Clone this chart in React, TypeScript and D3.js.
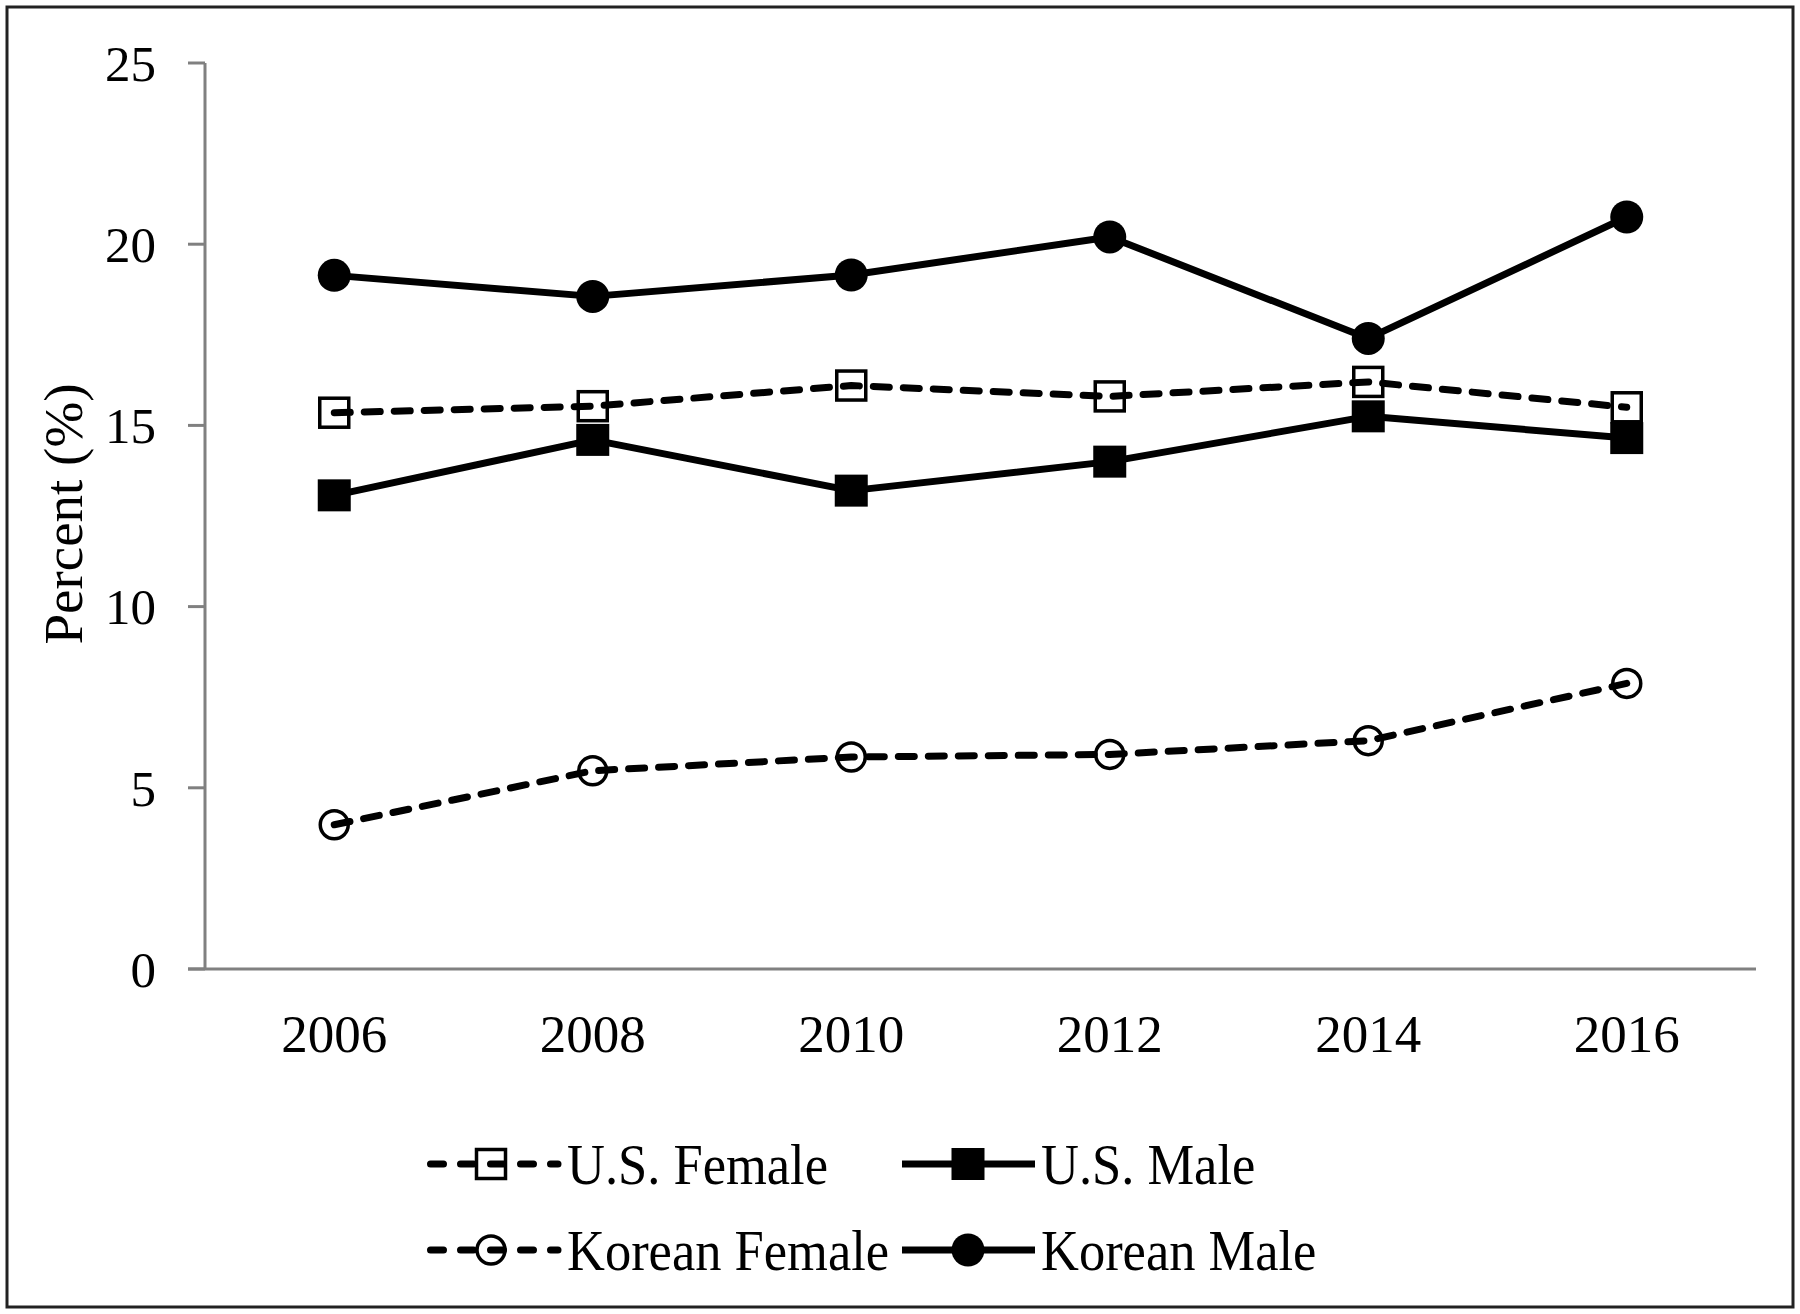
import React from "react";
import * as d3 from "d3";

const years = ["2006", "2008", "2010", "2012", "2014", "2016"];
const usFemale = [15.35, 15.53, 16.1, 15.8, 16.2, 15.5];
const usMale = [13.07, 14.6, 13.2, 14.0, 15.25, 14.65];
const koreanFemale = [3.98, 5.47, 5.85, 5.92, 6.3, 7.88];
const koreanMale = [19.14, 18.56, 19.15, 20.2, 17.4, 20.75];
const yTicks = [0, 5, 10, 15, 20, 25];

type Series = { name: string; values: number[]; dashed: boolean; marker: "square" | "circle"; filled: boolean };

const series: Series[] = [
  { name: "U.S. Female", values: usFemale, dashed: true, marker: "square", filled: false },
  { name: "U.S. Male", values: usMale, dashed: false, marker: "square", filled: true },
  { name: "Korean Female", values: koreanFemale, dashed: true, marker: "circle", filled: false },
  { name: "Korean Male", values: koreanMale, dashed: false, marker: "circle", filled: true },
];

const W = 1800;
const H = 1314;
const left = 205;
const right = 1756;
const top = 63;
const bottom = 969;
const FONT = "'Liberation Serif', 'Times New Roman', serif";

function Marker({ s, cx, cy }: { s: Series; cx: number; cy: number }) {
  if (s.marker === "square") {
    if (s.filled) {
      return <rect x={cx - 16.5} y={cy - 16} width={33} height={32} fill="#000" />;
    }
    return (
      <rect x={cx - 14.5} y={cy - 14.5} width={29} height={29} fill="none" stroke="#000" strokeWidth={3.5} />
    );
  }
  if (s.filled) return <circle cx={cx} cy={cy} r={16.5} fill="#000" />;
  return <circle cx={cx} cy={cy} r={14} fill="none" stroke="#000" strokeWidth={3.5} />;
}

export default function App() {
  const x = d3.scaleBand<string>().domain(years).range([left, right]);
  const y = d3.scaleLinear().domain([0, 25]).range([bottom, top]);
  const cx = (yr: string) => (x(yr) as number) + x.bandwidth() / 2;
  const line = d3
    .line<number>()
    .x((_, i) => cx(years[i]))
    .y((v) => y(v));

  const legendRows = [1164, 1250];
  const legendCols = [
    { lx1: 427, lx2: 558, mx: 491, tx: 567 },
    { lx1: 902, lx2: 1035, mx: 968, tx: 1041 },
  ];

  return (
    <svg width={W} height={H} style={{ position: "absolute", left: 0, top: 0, background: "#fff" }} fontFamily={FONT}>
      <rect x={0} y={0} width={W} height={H} fill="#fff" />
      <rect x={7} y={7} width={1786} height={1300} fill="none" stroke="#222" strokeWidth={3} />

      {/* y axis */}
      <line x1={left} x2={left} y1={top} y2={bottom} stroke="#808080" strokeWidth={3} />
      {yTicks.map((t) => (
        <g key={t}>
          <line x1={left - 17} x2={left} y1={y(t)} y2={y(t)} stroke="#808080" strokeWidth={3} />
          <text x={156} y={y(t)} dy="0.35em" textAnchor="end" fontSize={51} fill="#000">
            {t}
          </text>
        </g>
      ))}
      {/* x axis */}
      <line x1={left - 17} x2={right} y1={bottom} y2={bottom} stroke="#808080" strokeWidth={3} />
      {years.map((yr) => (
        <text key={yr} x={cx(yr)} y={1052} textAnchor="middle" fontSize={53} fill="#000">
          {yr}
        </text>
      ))}
      <text transform={`translate(82, 514) rotate(-90)`} textAnchor="middle" fontSize={55} fill="#000">
        Percent (%)
      </text>

      {/* series */}
      {series.map((s) => (
        <g key={s.name}>
          <path
            d={line(s.values) as string}
            fill="none"
            stroke="#000"
            strokeWidth={7}
            strokeDasharray={s.dashed ? "16 14" : undefined}
            strokeLinecap={s.dashed ? "round" : "butt"}
            strokeLinejoin="round"
          />
          {s.values.map((v, i) => (
            <Marker key={i} s={s} cx={cx(years[i])} cy={y(v)} />
          ))}
        </g>
      ))}

      {/* legend */}
      {series.map((s, i) => {
        const col = legendCols[i % 2];
        const ry = legendRows[Math.floor(i / 2)];
        return (
          <g key={s.name}>
            <line
              x1={col.lx1 + (s.dashed ? 3.5 : 0)}
              x2={col.lx2}
              y1={ry}
              y2={ry}
              stroke="#000"
              strokeWidth={7}
              strokeDasharray={s.dashed ? "13 17" : undefined}
              strokeLinecap={s.dashed ? "round" : "butt"}
            />
            <Marker s={s} cx={col.mx} cy={ry} />
            <text
              transform={`translate(${col.tx}, ${ry}) scale(1, 1.08)`}
              dy="0.35em"
              fontSize={52.5}
              fill="#000"
            >
              {s.name}
            </text>
          </g>
        );
      })}
    </svg>
  );
}
